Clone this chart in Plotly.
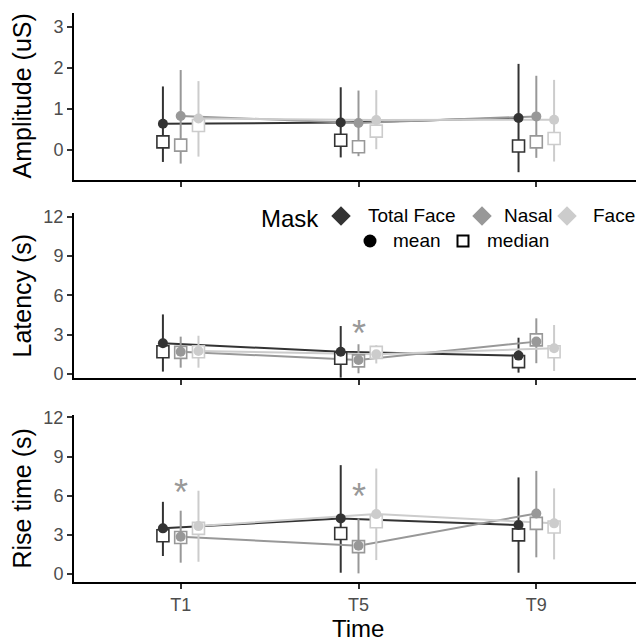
import plotly.graph_objects as go

# ---------------- data ----------------
times = ["T1", "T5", "T9"]
time_pos = [1, 2, 3]
groups = ["Total Face", "Nasal", "Face"]
group_colors = ["#333333", "#989898", "#cccccc"]
dodge = [-0.1, 0.0, 0.1]

# Amplitude (uS)
amp_mean = [[0.64, 0.67, 0.78], [0.83, 0.66, 0.82], [0.77, 0.73, 0.74]]
amp_upper = [[1.55, 1.53, 2.10], [1.95, 1.45, 1.81], [1.68, 1.46, 1.71]]
amp_lower = [[-0.29, -0.18, -0.54], [-0.33, -0.15, -0.19], [-0.16, 0.02, -0.28]]
amp_median = [[0.20, 0.24, 0.10], [0.12, 0.08, 0.20], [0.60, 0.46, 0.28]]

# Latency (s)
lat_mean = [[2.34, 1.70, 1.40], [1.70, 1.07, 2.47], [1.75, 1.50, 1.96]]
lat_upper = [[4.55, 3.66, 2.77], [2.85, 2.27, 4.25], [2.92, 2.20, 3.74]]
lat_lower = [[0.18, -0.28, 0.10], [0.48, 0.05, 0.82], [0.48, 0.80, 0.23]]
lat_median = [[1.70, 1.20, 0.94], [1.65, 1.00, 2.60], [1.70, 1.65, 1.70]]

# Rise time (s)
rise_mean = [[3.50, 4.26, 3.75], [2.86, 2.17, 4.64], [3.67, 4.59, 3.88]]
rise_upper = [[5.53, 8.34, 7.40], [4.85, 4.26, 7.90], [6.38, 8.08, 6.56]]
rise_lower = [[1.38, 0.10, 0.10], [0.87, 0.05, 1.28], [0.94, 1.07, 1.12]]
rise_median = [[2.93, 3.10, 3.00], [2.80, 2.10, 3.88], [3.50, 4.00, 3.60]]

panel_titles = ["Amplitude (uS)", "Latency (s)", "Rise time (s)"]
panel_ticks = [[0, 1, 2, 3], [0, 3, 6, 9, 12], [0, 3, 6, 9, 12]]
panel_ranges = [[-0.73, 3.34], [-0.31, 12.3], [-0.61, 12.18]]

# significance asterisks: panel index, time index, y value
ast_panel = [1, 2, 2]
ast_time = [1, 0, 1]
ast_y = [3.75, 6.94, 6.64]

panels = [
    (amp_mean, amp_upper, amp_lower, amp_median),
    (lat_mean, lat_upper, lat_lower, lat_median),
    (rise_mean, rise_upper, rise_lower, rise_median),
]

# ---------------- layout constants ----------------
OFF = 8                      # page body margin of the html
W, H = 644 - OFF, 642 - OFF
ML, MR = 74 - OFF, 1
PW = W - ML - MR
domains_px = [(13, 180), (213, 378), (415, 582)]  # top, bottom (screen px)
FONT = "Liberation Sans, Arial, Helvetica, sans-serif"
TICK_GREY = "#4d4d4d"


def sx(v):
    return v - OFF


def sy(v):
    return v - OFF


def paper_x(v):
    return (sx(v) - ML) / PW


def paper_y(v):
    return 1 - sy(v) / H


fig = go.Figure()


def ax(i):
    return ("x" if i == 0 else f"x{i+1}"), ("y" if i == 0 else f"y{i+1}")


# lines + error bars
for p, (mean, up, lo, med) in enumerate(panels):
    xa, ya = ax(p)
    for g in range(3):
        xs = [t + dodge[g] for t in time_pos]
        fig.add_trace(go.Scatter(
            x=xs, y=mean[g], mode="lines", xaxis=xa, yaxis=ya,
            line=dict(color=group_colors[g], width=2),
            error_y=dict(type="data", symmetric=False,
                         array=[u - m for u, m in zip(up[g], mean[g])],
                         arrayminus=[m - l for m, l in zip(mean[g], lo[g])],
                         color=group_colors[g], thickness=2, width=0),
            showlegend=False, hoverinfo="skip"))
# medians
for p, (mean, up, lo, med) in enumerate(panels):
    xa, ya = ax(p)
    for g in range(3):
        xs = [t + dodge[g] for t in time_pos]
        fig.add_trace(go.Scatter(
            x=xs, y=med[g], mode="markers", xaxis=xa, yaxis=ya,
            marker=dict(symbol="square", size=12, color="white",
                        line=dict(color=group_colors[g], width=1.6)),
            showlegend=False, hoverinfo="skip"))
# means
for p, (mean, up, lo, med) in enumerate(panels):
    xa, ya = ax(p)
    for g in range(3):
        xs = [t + dodge[g] for t in time_pos]
        fig.add_trace(go.Scatter(
            x=xs, y=mean[g], mode="markers", xaxis=xa, yaxis=ya,
            marker=dict(symbol="circle", size=10, color=group_colors[g]),
            showlegend=False, hoverinfo="skip"))

# ---------------- custom legend (full-page axis in pixel units) ----------------
leg_key_x = [341, 482, 567]
leg_text_x = [366, 502, 591]
fig.add_trace(go.Scatter(
    x=[sx(v) for v in leg_key_x], y=[sy(216)] * 3, mode="markers",
    xaxis="x4", yaxis="y4",
    marker=dict(symbol="diamond", size=15, color=group_colors),
    showlegend=False, hoverinfo="skip", cliponaxis=False))
fig.add_trace(go.Scatter(
    x=[sx(370)], y=[sy(241)], mode="markers", xaxis="x4", yaxis="y4",
    marker=dict(symbol="circle", size=13, color="black"),
    showlegend=False, hoverinfo="skip", cliponaxis=False))
fig.add_trace(go.Scatter(
    x=[sx(463)], y=[sy(241)], mode="markers", xaxis="x4", yaxis="y4",
    marker=dict(symbol="square", size=11, color="white",
                line=dict(color="black", width=2)),
    showlegend=False, hoverinfo="skip", cliponaxis=False))

annotations = []
annotations.append(dict(x=paper_x(259), y=paper_y(219), xref="paper", yref="paper",
                        text="Mask", showarrow=False, xanchor="left",
                        yanchor="middle",
                        font=dict(family=FONT, size=24, color="black")))
for g in range(3):
    annotations.append(dict(x=paper_x(leg_text_x[g]), y=paper_y(216),
                            xref="paper", yref="paper",
                            text=groups[g], showarrow=False, xanchor="left",
                            yanchor="middle",
                            font=dict(family=FONT, size=19, color="black")))
annotations.append(dict(x=paper_x(391), y=paper_y(241), xref="paper", yref="paper",
                        text="mean", showarrow=False, xanchor="left",
                        yanchor="middle",
                        font=dict(family=FONT, size=19, color="black")))
annotations.append(dict(x=paper_x(485), y=paper_y(241), xref="paper", yref="paper",
                        text="median", showarrow=False, xanchor="left",
                        yanchor="middle",
                        font=dict(family=FONT, size=19, color="black")))

# y titles
for p in range(3):
    top, bot = domains_px[p]
    annotations.append(dict(
        x=paper_x(21), y=paper_y((top + bot) / 2), xref="paper", yref="paper",
        text=panel_titles[p], textangle=-90, showarrow=False,
        xanchor="center", yanchor="middle",
        font=dict(family=FONT, size=25, color="black")))
# x title
annotations.append(dict(x=paper_x(358), y=paper_y(628), xref="paper", yref="paper",
                        text="Time", showarrow=False, xanchor="center",
                        yanchor="middle",
                        font=dict(family=FONT, size=24, color="black")))
# asterisks
for pi, ti, yv in zip(ast_panel, ast_time, ast_y):
    xa, ya = ax(pi)
    annotations.append(dict(x=time_pos[ti], y=yv, xref=xa, yref=ya, text="*",
                            showarrow=False, xanchor="center", yanchor="middle",
                            yshift=-9,
                            font=dict(family=FONT, size=36, color="#999999")))

layout = dict(
    width=W, height=H,
    margin=dict(l=ML, r=MR, t=0, b=0),
    paper_bgcolor="white", plot_bgcolor="rgba(0,0,0,0)",
    font=dict(family=FONT, color="black"),
    showlegend=False,
    annotations=annotations,
)

for p in range(3):
    top, bot = domains_px[p]
    xname = "xaxis" if p == 0 else f"xaxis{p+1}"
    yname = "yaxis" if p == 0 else f"yaxis{p+1}"
    xa, ya = ax(p)
    layout[xname] = dict(
        domain=[0, 1], anchor=ya, range=[0.4, 3.6],
        tickvals=time_pos, ticktext=times, showticklabels=(p == 2),
        showline=True, linecolor="black", linewidth=2,
        ticks="outside", ticklen=5, tickwidth=1.5, tickcolor="#333333",
        showgrid=False, zeroline=False, automargin=False,
        tickfont=dict(family=FONT, size=18, color=TICK_GREY))
    layout[yname] = dict(
        domain=[paper_y(bot), paper_y(top)], anchor=xa,
        range=panel_ranges[p], tickvals=panel_ticks[p],
        showline=True, linecolor="black", linewidth=2,
        ticks="outside", ticklen=5, tickwidth=1.5, tickcolor="#333333",
        showgrid=False, zeroline=False, automargin=False,
        tickfont=dict(family=FONT, size=18, color=TICK_GREY))

layout["xaxis4"] = dict(domain=[0, 1], anchor="y4", range=[ML, W - MR],
                        visible=False, fixedrange=True)
layout["yaxis4"] = dict(domain=[0, 1], anchor="x4", range=[H, 0],
                        visible=False, fixedrange=True)

fig.update_layout(**layout)
fig.write_html("out.html")
